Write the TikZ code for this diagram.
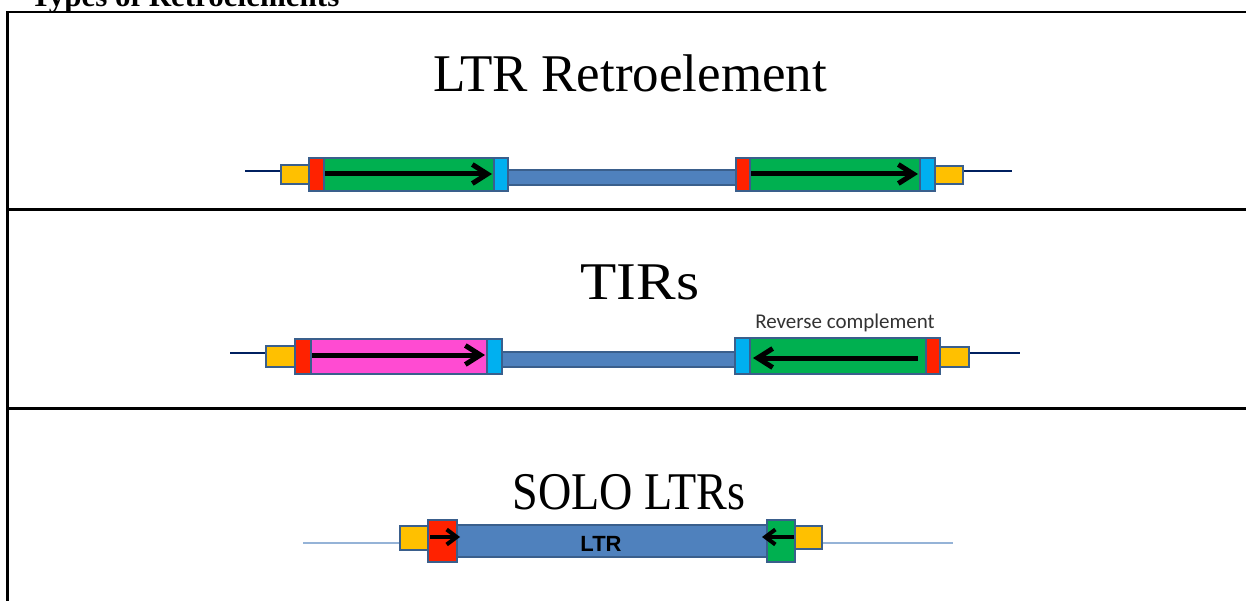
\documentclass[tikz,border=0pt]{standalone}
\usepackage{fontspec}
\setmainfont{Liberation Serif}
\newfontfamily\labelfont{Carlito}
\newfontfamily\barfont{Liberation Sans}
\usetikzlibrary{arrows.meta}

\definecolor{ltrgreen}{HTML}{00B050}
\definecolor{ltrred}{HTML}{FF2200}
\definecolor{pbscyan}{HTML}{00B0F0}
\definecolor{tsdyellow}{HTML}{FFC000}
\definecolor{tirpink}{HTML}{FF4BD2}
\definecolor{bodyblue}{HTML}{4F81BD}
\definecolor{edgeblue}{HTML}{3A5F8C}
\definecolor{dnanavy}{HTML}{002060}
\definecolor{dnathin}{HTML}{95B3D7}

\begin{document}
\begin{tikzpicture}[x=1pt, y=-1pt,
    frame/.style={line width=2.5pt},
    seg/.style={draw=edgeblue, line width=1.8pt},
    dna/.style={dnanavy, line width=2.5pt},
    dir/.style={-{Straight Barb[length=15pt, width=19pt]}, line width=5pt},
    shortdir/.style={-{Straight Barb[length=10pt, width=15pt]}, line width=4pt}]
    \useasboundingbox (0,0) rectangle (1246,601);

    \node[anchor=base west, font=\fontsize{31}{34}\selectfont\bfseries] (head) at (27,7) {Types of Retroelements};
    \draw[frame] (1260,12) -- (7.5,12) -- (7.5,620);
    \draw[frame] (7.5,209.5) -- (1260,209.5);
    \draw[frame] (7.5,408.5) -- (1260,408.5);

    \node[anchor=base, font=\fontsize{53}{60}\selectfont] (ltrtitle) at (630,92) {LTR Retroelement};
    \draw[dna] (245,171) -- (282,171);
    \draw[dna] (963,171) -- (1012,171);
    \filldraw[seg, fill=bodyblue] (508,170) rectangle (736,185);
    \filldraw[seg, fill=tsdyellow] (281,165) rectangle (309,184);
    \filldraw[seg, fill=ltrred] (309,158) rectangle (324,191);
    \filldraw[seg, fill=ltrgreen] (324,158) rectangle (494,191);
    \filldraw[seg, fill=pbscyan] (494,158) rectangle (508,191);
    \filldraw[seg, fill=ltrred] (736,158) rectangle (750,191);
    \filldraw[seg, fill=ltrgreen] (750,158) rectangle (920,191);
    \filldraw[seg, fill=pbscyan] (920,158) rectangle (935,191);
    \filldraw[seg, fill=tsdyellow] (935,166) rectangle (963,184);
    \draw[dir] (325,174) -- (492,174);
    \draw[dir] (751,174) -- (918,174);

    \node[anchor=base, font=\fontsize{53}{60}\selectfont] (tirtitle) at (640,300) {\scalebox{1.12}[1]{TIRs}};
    \draw[dna] (230,353) -- (267,353);
    \draw[dna] (969,353) -- (1020,353);
    \filldraw[seg, fill=bodyblue] (502,352) rectangle (735,367);
    \filldraw[seg, fill=tsdyellow] (266,346) rectangle (295,367);
    \filldraw[seg, fill=ltrred] (295,339) rectangle (311,374);
    \filldraw[seg, fill=tirpink] (311,339) rectangle (487,374);
    \filldraw[seg, fill=pbscyan] (487,339) rectangle (502,374);
    \filldraw[seg, fill=pbscyan] (735,338) rectangle (750,374);
    \filldraw[seg, fill=ltrgreen] (750,338) rectangle (926,374);
    \filldraw[seg, fill=ltrred] (926,338) rectangle (940,374);
    \filldraw[seg, fill=tsdyellow] (940,347) rectangle (969,367);
    \draw[dir] (312,355) -- (485,355);
    \draw[dir] (918,358) -- (753,358);
    \node[anchor=base, font=\labelfont\fontsize{21}{24}\selectfont, text=black!80] (revcomp) at (845,328) {Reverse complement};

    \node[anchor=base, font=\fontsize{53}{60}\selectfont] (sologtitle) at (629,509) {\scalebox{0.87}[1]{SOLO LTRs}};
    \draw[dnathin, line width=1.2pt] (303,543) -- (953,543);
    \filldraw[seg, fill=tsdyellow] (400,526) rectangle (428,550);
    \filldraw[seg, fill=tsdyellow] (795,526) rectangle (822,549);
    \filldraw[seg, fill=bodyblue] (457,525) rectangle (767,557);
    \filldraw[seg, fill=ltrred] (428,520) rectangle (457,562);
    \filldraw[seg, fill=ltrgreen] (767,520) rectangle (795,562);
    \draw[shortdir] (430,537) -- (460,537);
    \draw[shortdir] (794,537) -- (762,537);
    \node[font=\barfont\bfseries\fontsize{22}{24}\selectfont] (ltrbar) at (601,544) {LTR};
\end{tikzpicture}
\end{document}
